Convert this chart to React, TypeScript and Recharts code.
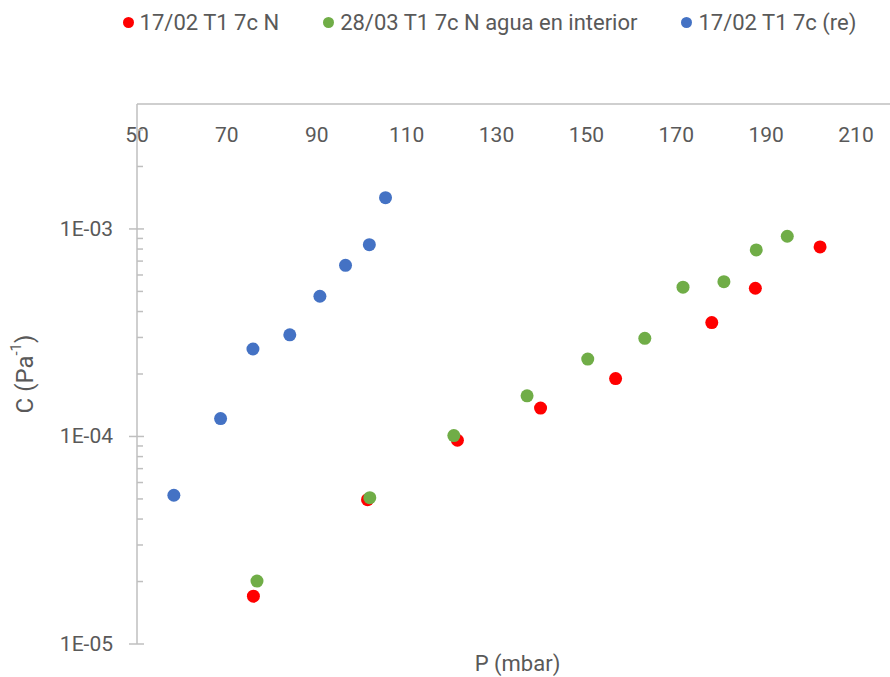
import React from 'react';
import { ScatterChart, Scatter, XAxis, YAxis, Legend } from 'recharts';

// Pressure (mbar) and compliance (Pa^-1) per test series
const P_RED = [75.9, 101.3, 121.3, 139.8, 156.5, 177.9, 187.6, 202.0];
const C_RED = [1.70e-5, 4.96e-5, 9.59e-5, 1.37e-4, 1.90e-4, 3.54e-4, 5.18e-4, 8.19e-4];

const P_GREEN = [76.7, 101.8, 120.5, 136.8, 150.3, 163.0, 171.5, 180.6, 187.8, 194.7];
const C_GREEN = [2.01e-5, 5.07e-5, 1.01e-4, 1.57e-4, 2.36e-4, 2.97e-4, 5.24e-4, 5.57e-4, 7.92e-4, 9.22e-4];

const P_BLUE = [58.2, 68.6, 75.8, 84.0, 90.7, 96.4, 101.7, 105.3];
const C_BLUE = [5.21e-5, 1.22e-4, 2.64e-4, 3.09e-4, 4.74e-4, 6.68e-4, 8.40e-4, 1.415e-3];

const SERIES_NAMES = ['17/02 T1 7c N', '28/03 T1 7c N agua en interior', '17/02 T1 7c (re)'];
const SERIES_COLORS = ['#FF0000', '#70AD47', '#4472C4'];

// Axes
const X_TICKS = [50, 70, 90, 110, 130, 150, 170, 190, 210];
const X_DOMAIN = [50, 217.56];
const Y_MAJOR = [1e-5, 1e-4, 1e-3];
const Y_MAJOR_LABELS = ['1E-05', '1E-04', '1E-03'];
const Y_MINOR = [
  2e-5, 3e-5, 4e-5, 5e-5, 6e-5, 7e-5, 8e-5, 9e-5,
  2e-4, 3e-4, 4e-4, 5e-4, 6e-4, 7e-4, 8e-4, 9e-4,
  2e-3, 3e-3,
];
const Y_DOMAIN = [1e-5, 4e-3];

const X_TITLE = 'P (mbar)';
const Y_TITLE = 'C (Pa';
const Y_TITLE_SUP = '-1';

const FONT = 'Roboto, "Noto Sans", sans-serif';
const TEXT = '#595959';
const AXIS = '#BFBFBF';

const toPoints = (xs: number[], ys: number[]) => xs.map((x, i) => ({ x, y: ys[i] }));
const SERIES_DATA = [toPoints(P_RED, C_RED), toPoints(P_GREEN, C_GREEN), toPoints(P_BLUE, C_BLUE)];

// Tick labels of the top axis sit below its line, inside the plot
const XTick = (props: any) => {
  const { x, y, payload } = props;
  return (
    <text x={x} y={y + 31} textAnchor="middle" dominantBaseline="central" fill={TEXT} fontSize={21} fontFamily={FONT}>
      {payload.value}
    </text>
  );
};

// Major decades get a crossing tick and a label, minor steps a short inner tick
const YTick = (props: any) => {
  const { x, y, payload } = props;
  const idx = Y_MAJOR.indexOf(payload.value);
  if (idx >= 0) {
    return (
      <g>
        <line x1={x - 8} x2={x + 7} y1={y} y2={y} stroke={AXIS} strokeWidth={1.5} />
        <text x={x - 24} y={y} textAnchor="end" dominantBaseline="central" fill={TEXT} fontSize={21} fontFamily={FONT}>
          {Y_MAJOR_LABELS[idx]}
        </text>
      </g>
    );
  }
  return <line x1={x} x2={x + 6} y1={y} y2={y} stroke={AXIS} strokeWidth={1.5} />;
};

const YTitle = (props: any) => {
  const { viewBox } = props;
  const cx = viewBox.x + 25;
  const cy = viewBox.y + viewBox.height / 2;
  return (
    <text x={cx} y={cy} transform={`rotate(-90 ${cx} ${cy})`} textAnchor="middle" dominantBaseline="central" fill={TEXT} fontSize={24} fontFamily={FONT}>
      {Y_TITLE}
      <tspan fontSize={15} dy={-9}>{Y_TITLE_SUP}</tspan>
      <tspan dy={9}>)</tspan>
    </text>
  );
};

const XTitle = (props: any) => {
  const { viewBox } = props;
  const cx = viewBox.x + viewBox.width / 2 + 4;
  const cy = viewBox.y + 19;
  return (
    <text x={cx} y={cy} textAnchor="middle" dominantBaseline="central" fill={TEXT} fontSize={22} fontFamily={FONT}>
      {X_TITLE}
    </text>
  );
};

const LegendContent = () => (
  <div
    style={{
      display: 'flex',
      justifyContent: 'center',
      alignItems: 'center',
      gap: 44,
      height: 28,
      paddingLeft: 89,
      boxSizing: 'border-box',
      fontFamily: FONT,
      fontSize: 22,
      color: TEXT,
    }}
  >
    {SERIES_NAMES.map((name, i) => (
      <div key={name} style={{ display: 'flex', alignItems: 'center', whiteSpace: 'nowrap' }}>
        <span
          style={{
            display: 'inline-block',
            width: 11,
            height: 11,
            borderRadius: '50%',
            background: SERIES_COLORS[i],
            marginRight: 6,
          }}
        />
        <span>{name}</span>
      </div>
    ))}
  </div>
);

const Dot = (color: string) => (props: any) => (
  <circle cx={props.cx} cy={props.cy} r={6.5} fill={color} />
);

export default function App() {
  return (
    <div style={{ position: 'absolute', left: 0, top: 0, background: '#fff' }}>
      <ScatterChart width={890} height={677} margin={{ top: 74, right: 0, bottom: 0, left: 0 }}>
        <XAxis
          xAxisId="top"
          orientation="top"
          type="number"
          dataKey="x"
          domain={X_DOMAIN}
          ticks={X_TICKS}
          interval={0}
          allowDataOverflow
          height={30}
          tickLine={false}
          tickSize={0}
          tickMargin={0}
          axisLine={{ stroke: AXIS, strokeWidth: 1.5 }}
          tick={<XTick />}
        />
        <XAxis
          xAxisId="bottom"
          orientation="bottom"
          type="number"
          dataKey="x"
          domain={X_DOMAIN}
          allowDataOverflow
          height={33}
          axisLine={false}
          tickLine={false}
          tick={false}
          label={<XTitle />}
        />
        <YAxis
          yAxisId="c"
          type="number"
          dataKey="y"
          scale="log"
          domain={Y_DOMAIN}
          ticks={[...Y_MAJOR, ...Y_MINOR]}
          interval={0}
          allowDataOverflow
          width={137}
          tickLine={false}
          tickSize={0}
          tickMargin={0}
          axisLine={{ stroke: AXIS, strokeWidth: 1.5 }}
          tick={<YTick />}
          label={<YTitle />}
        />
        <Legend
          layout="horizontal"
          verticalAlign="middle"
          align="center"
          wrapperStyle={{ top: 8, left: 0, width: 890 }}
          content={<LegendContent />}
        />
        {SERIES_DATA.map((data, i) => (
          <Scatter
            key={SERIES_NAMES[i]}
            name={SERIES_NAMES[i]}
            data={data}
            xAxisId="top"
            yAxisId="c"
            fill={SERIES_COLORS[i]}
            shape={Dot(SERIES_COLORS[i])}
            isAnimationActive={false}
          />
        ))}
      </ScatterChart>
    </div>
  );
}
